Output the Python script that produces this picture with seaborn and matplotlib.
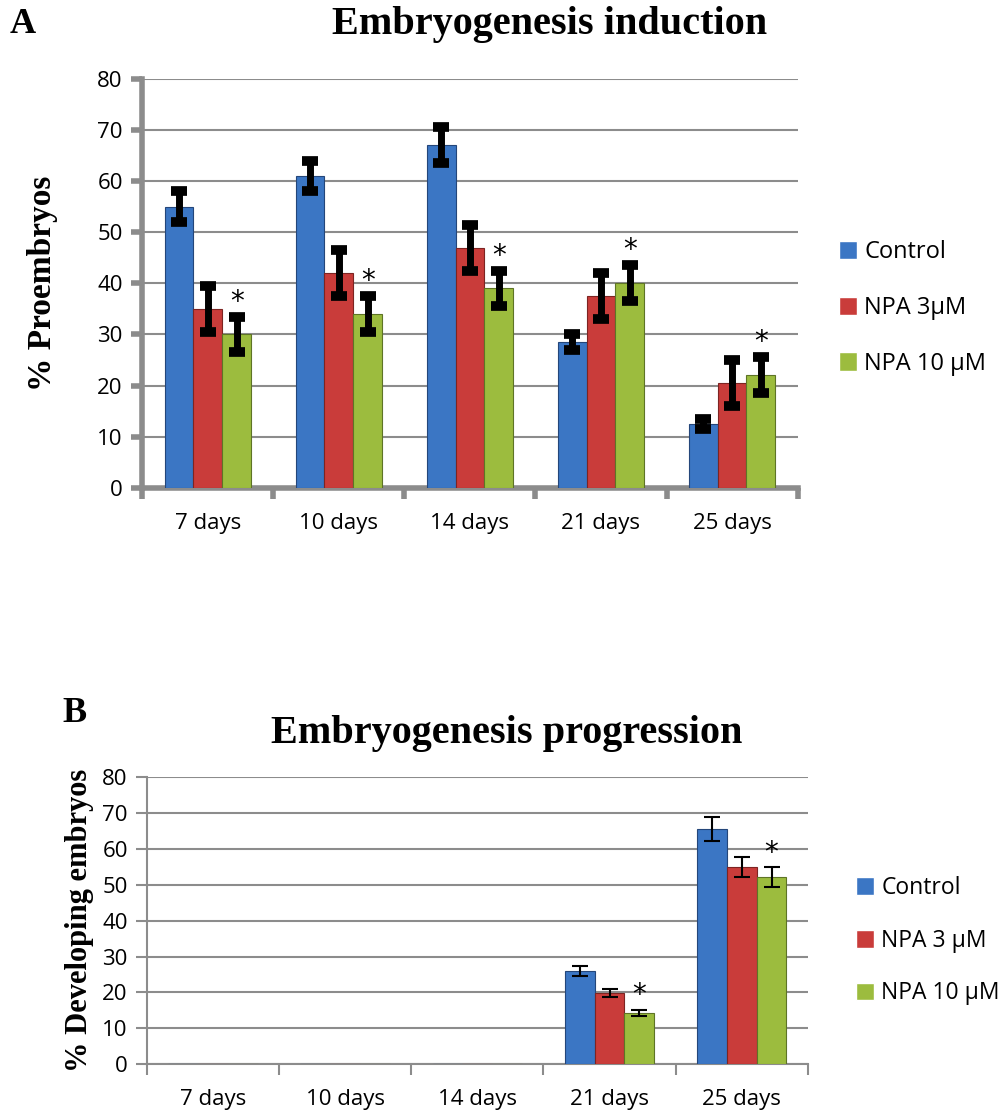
import matplotlib
matplotlib.use('Agg')
import matplotlib.pyplot as plt
import pandas as pd
import seaborn as sns
import numpy as np

days = ['7 days', '10 days', '14 days', '21 days', '25 days']

# panel A - proembryos (%)
a_control = [55, 61, 67, 28.5, 12.5]
a_npa3 = [35, 42, 47, 37.5, 20.5]
a_npa10 = [30, 34, 39, 40, 22]
a_err_control = [3, 3, 3.5, 1.5, 1]
a_err_npa3 = [4.5, 4.5, 4.5, 4.5, 4.5]
a_err_npa10 = [3.5, 3.5, 3.5, 3.5, 3.5]
a_labels = ['Control', 'NPA 3µM', 'NPA 10 µM']

# panel B - developing embryos (%)
b_control = [0, 0, 0, 26, 65.5]
b_npa3 = [0, 0, 0, 19.8, 55]
b_npa10 = [0, 0, 0, 14.3, 52.2]
b_err_control = [0, 0, 0, 1.4, 3.3]
b_err_npa3 = [0, 0, 0, 1.0, 2.8]
b_err_npa10 = [0, 0, 0, 0.8, 2.7]
b_labels = ['Control', 'NPA 3 µM', 'NPA 10 µM']

colors = ['#3b76c4', '#c93c3a', '#9cbc3e']
edges = ['#24467a', '#7d2422', '#5e7426']
grey = '#8c8c8c'


def make_df(vals, labels):
    rows = []
    for lab, v in zip(labels, vals):
        for d, y in zip(days, v):
            rows.append({'day': d, 'value': y, 'treatment': lab})
    return pd.DataFrame(rows)


def draw_panel(ax, df, labels, errs, width, thick):
    sns.barplot(data=df, x='day', y='value', hue='treatment', hue_order=labels,
                palette=colors, width=width, errorbar=None, ax=ax,
                saturation=1, zorder=3)
    bar_conts = list(ax.containers)
    for i, cont in enumerate(bar_conts):
        for bar in cont:
            bar.set_edgecolor(edges[i])
            bar.set_linewidth(0.8)
        xs = [b.get_x() + b.get_width() / 2 for b in cont]
        hs = [b.get_height() for b in cont]
        e = np.array(errs[i])
        m = e > 0
        if thick:
            ax.errorbar(np.array(xs)[m], np.array(hs)[m], yerr=e[m], fmt='none',
                        ecolor='black', elinewidth=5, capsize=6, capthick=7, zorder=5)
        else:
            ax.errorbar(np.array(xs)[m], np.array(hs)[m], yerr=e[m], fmt='none',
                        ecolor='black', elinewidth=1.5, capsize=6, capthick=1.5, zorder=5)
        if i == 2:
            for x, h, ee in zip(xs, hs, errs[i]):
                if h > 0:
                    ax.text(x, h + ee + 0.2, '*', ha='center', va='bottom',
                            fontsize=20, fontfamily='DejaVu Sans', zorder=6)
    ax.set_xlim(-0.5, 4.5)
    ax.set_ylim(0, 80)
    ax.set_yticks(range(0, 81, 10))
    ax.yaxis.grid(True, color=grey, linewidth=1.5, zorder=0)
    ax.xaxis.grid(False)
    ax.set_axisbelow(True)
    for s in ['top', 'right']:
        ax.spines[s].set_visible(False)
    lw = 4 if thick else 1.5
    for s in ['left', 'bottom']:
        ax.spines[s].set_color(grey)
        ax.spines[s].set_linewidth(lw)
    ax.set_xticks(np.arange(-0.5, 5, 1), minor=True)
    ax.tick_params(axis='x', which='major', bottom=True, length=0, pad=18,
                   labelsize=16, labelcolor='black')
    ax.tick_params(axis='x', which='minor', bottom=True, length=8, width=lw, color=grey)
    ax.tick_params(axis='y', left=True, length=8, width=lw, color=grey,
                   labelsize=16, labelcolor='black', pad=6)
    ax.set_xlabel('')
    for t in ax.get_xticklabels() + ax.get_yticklabels():
        t.set_fontfamily('Open Sans')


sns.set_style('white')
plt.rcParams['text.color'] = 'black'
plt.rcParams['axes.labelcolor'] = 'black'
fig = plt.figure(figsize=(10.02, 11.11), dpi=100)

axA = fig.add_axes([0.142, 0.561, 0.654, 0.368])
dfA = make_df([a_control, a_npa3, a_npa10], a_labels)
draw_panel(axA, dfA, a_labels, [a_err_control, a_err_npa3, a_err_npa10], 0.66, True)
axA.set_ylabel('% Proembryos', fontsize=24, fontweight='bold',
               fontfamily='Liberation Serif', labelpad=28)
axA.legend(loc='center left', bbox_to_anchor=(1.03, 0.44), frameon=False,
           prop={'family': 'Open Sans', 'size': 17}, handlelength=0.8,
           handleheight=0.8, handletextpad=0.3, labelspacing=1.35)

axB = fig.add_axes([0.147, 0.0423, 0.659, 0.258])
dfB = make_df([b_control, b_npa3, b_npa10], b_labels)
draw_panel(axB, dfB, b_labels, [b_err_control, b_err_npa3, b_err_npa10], 0.68, False)
axB.set_ylabel('% Developing embryos', fontsize=22, fontweight='bold',
               fontfamily='Liberation Serif', labelpad=6)
axB.legend(loc='center left', bbox_to_anchor=(1.042, 0.43), frameon=False,
           prop={'family': 'Open Sans', 'size': 16.5}, handlelength=0.8,
           handleheight=0.8, handletextpad=0.3, labelspacing=1.25)

fig.text(0.548, 0.978, 'Embryogenesis induction', ha='center', va='center',
         fontsize=29, fontweight='bold', fontfamily='Liberation Serif')
fig.text(0.506, 0.340, 'Embryogenesis progression', ha='center', va='center',
         fontsize=29, fontweight='bold', fontfamily='Liberation Serif')
fig.text(0.01, 0.978, 'A', ha='left', va='center', fontsize=26,
         fontweight='bold', fontfamily='Liberation Serif')
fig.text(0.062, 0.358, 'B', ha='left', va='center', fontsize=26,
         fontweight='bold', fontfamily='Liberation Serif')

fig.savefig('out.png', dpi=100)
